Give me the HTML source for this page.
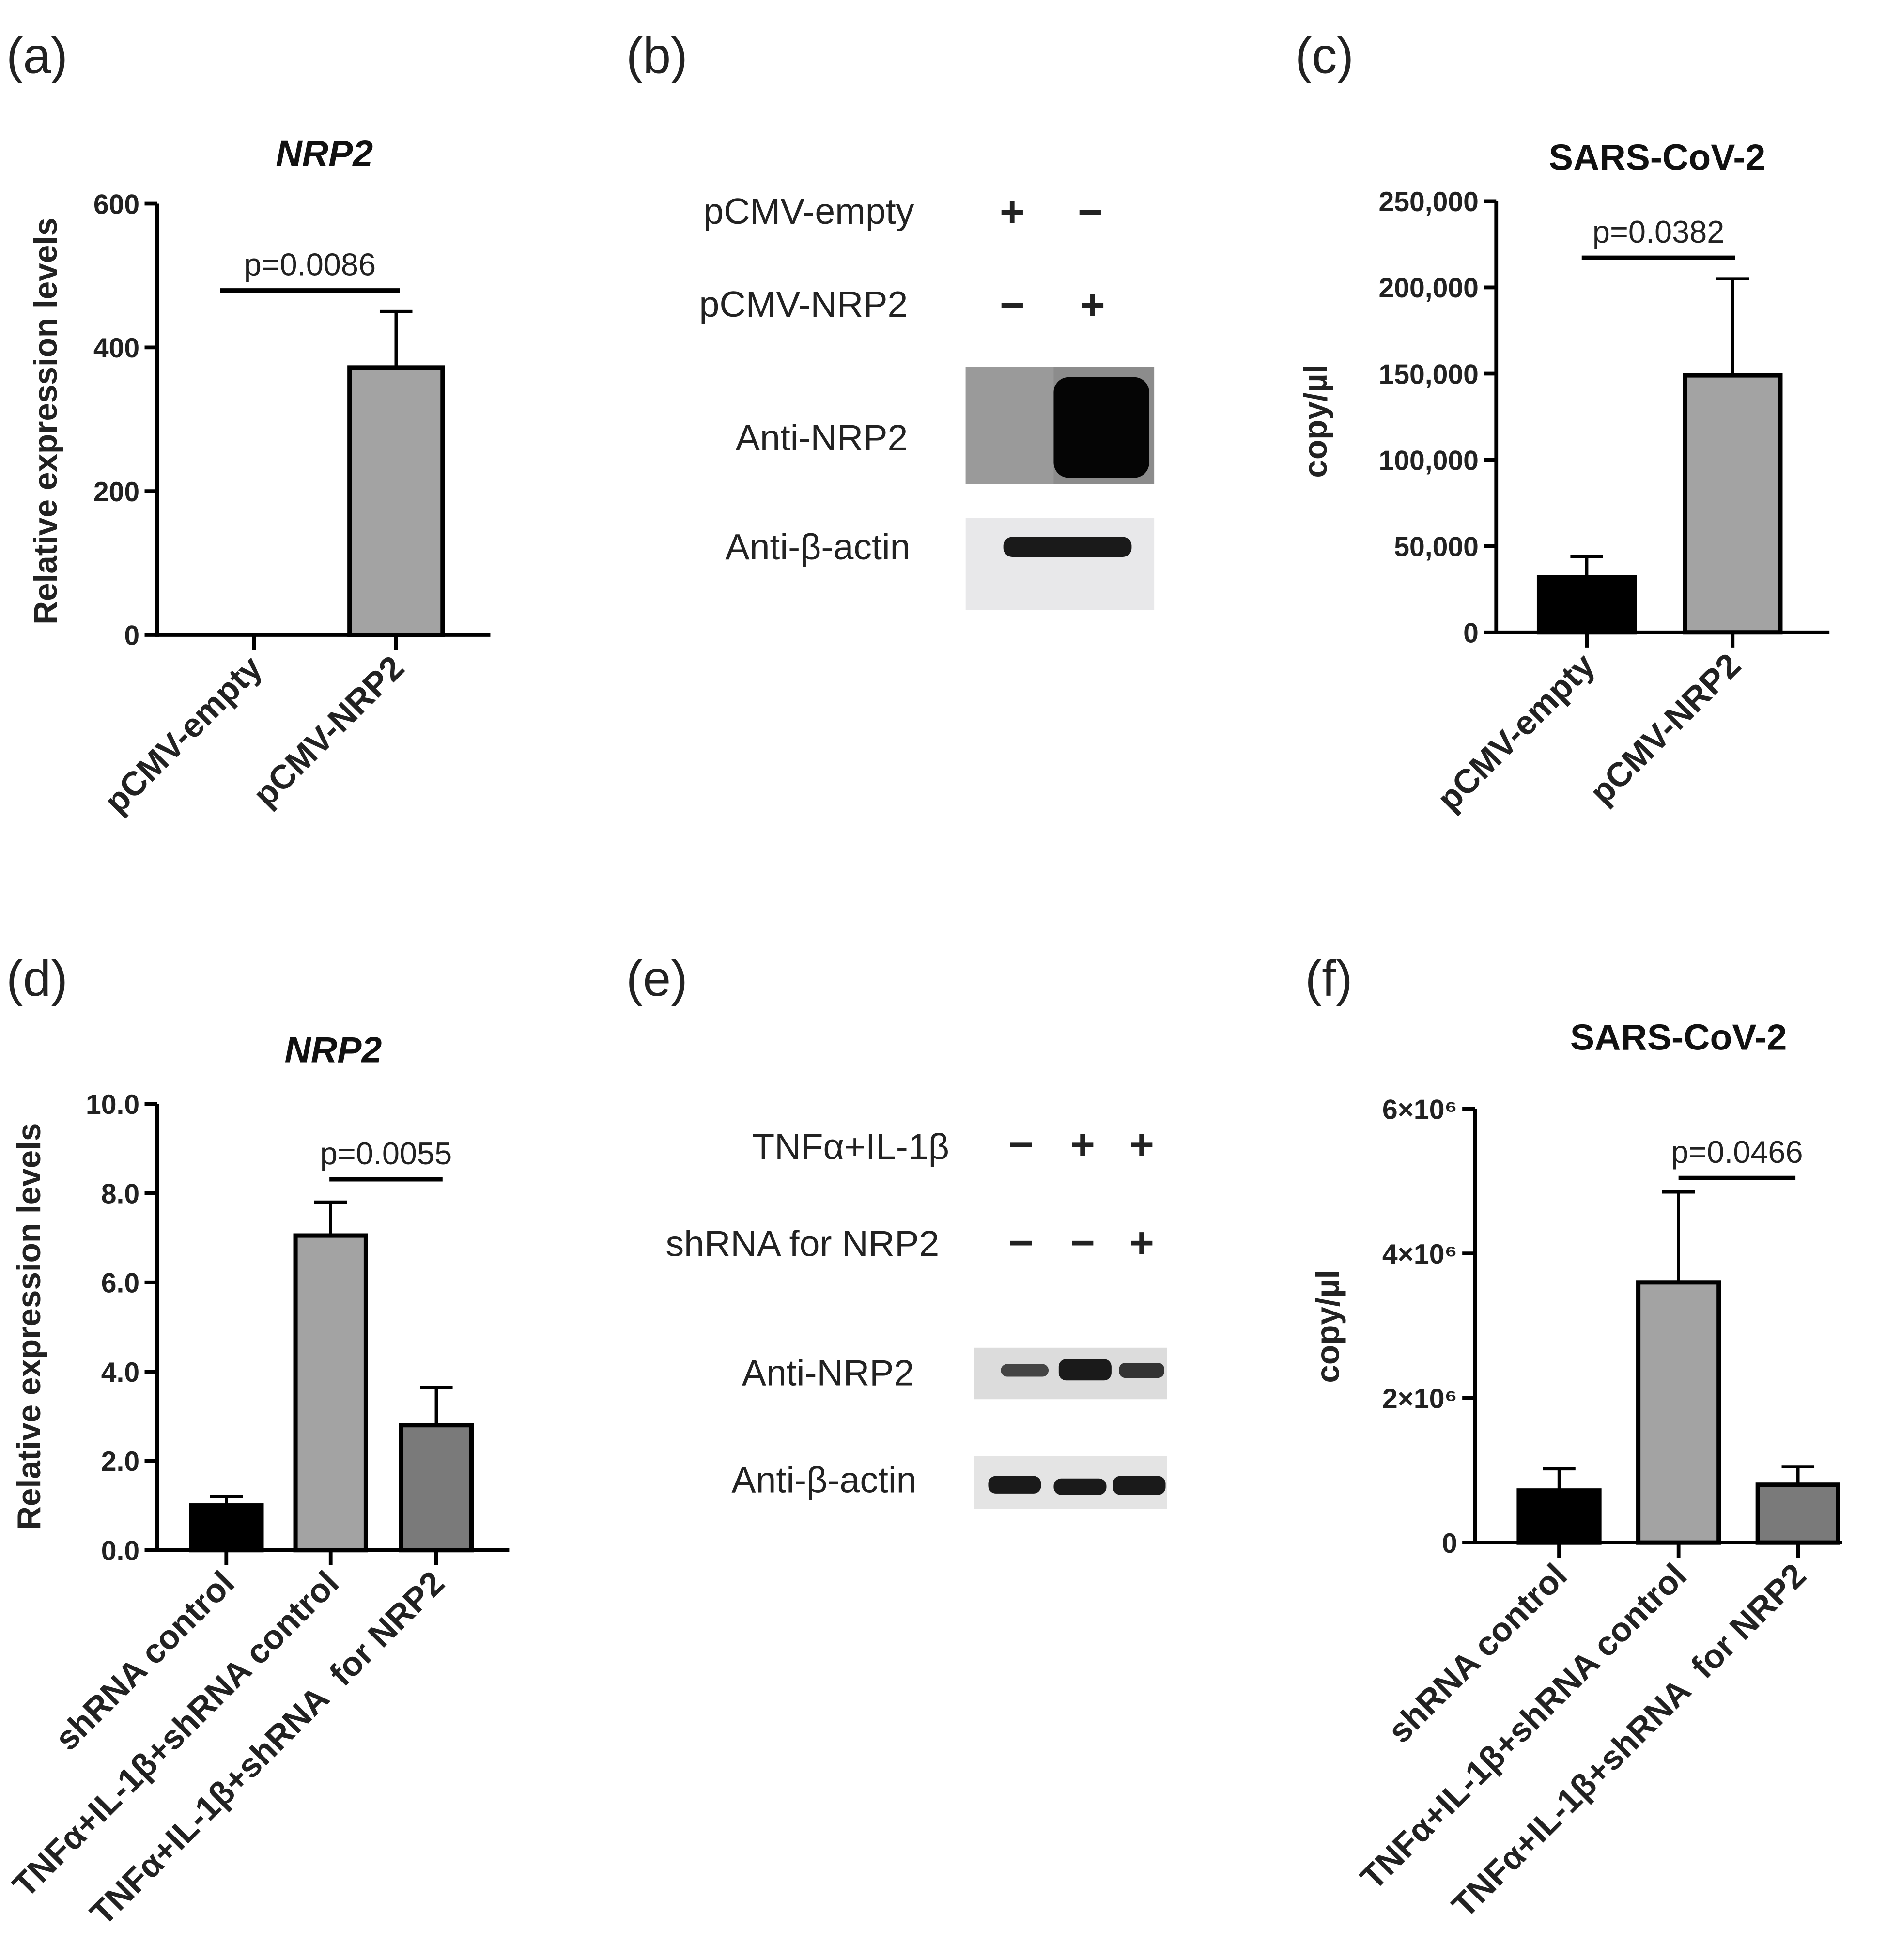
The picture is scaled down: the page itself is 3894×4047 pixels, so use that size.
<!DOCTYPE html>
<html><head><meta charset="utf-8"><style>html,body{margin:0;padding:0;background:#fff}svg{display:block}
text{font-family:"Liberation Sans",sans-serif;white-space:pre}</style></head><body>
<svg id="fig" width="3894" height="4047" viewBox="0 0 1500 1559" preserveAspectRatio="none" xmlns="http://www.w3.org/2000/svg">
<g font-size="40" fill="#222">
<text x="5" y="58">(a)</text>
<text x="498" y="58">(b)</text>
<text x="1030" y="58">(c)</text>
<text x="5" y="792">(d)</text>
<text x="498" y="792">(e)</text>
<text x="1038" y="792">(f)</text>
</g>
<g font-size="29" fill="#222" text-anchor="end">
<text x="727" y="178">pCMV-empty</text><text x="722" y="252">pCMV-NRP2</text>
<text x="722" y="358">Anti-NRP2</text><text x="724" y="445">Anti-β-actin</text>
<text x="805" y="180" text-anchor="middle" font-weight="bold" font-size="34">+</text>
<text x="867" y="180" text-anchor="middle" font-weight="bold" font-size="34">−</text>
<text x="805" y="254" text-anchor="middle" font-weight="bold" font-size="34">−</text>
<text x="869" y="254" text-anchor="middle" font-weight="bold" font-size="34">+</text>
<rect x="768" y="292" width="150" height="93" fill="#8c8c8c"/>
<rect x="768" y="292" width="70" height="93" fill="#9a9a9a"/>
<rect x="838" y="300" width="76" height="80" rx="12" fill="#050505"/>
<rect x="768" y="412" width="150" height="73" fill="#e8e8ea"/>
<rect x="798" y="427" width="102" height="16" rx="7" fill="#1a1a1a"/>
</g>
<g font-size="29" fill="#222" text-anchor="end">
<text x="755" y="922">TNFα+IL-1β</text><text x="747" y="999">shRNA for NRP2</text>
<text x="727" y="1102">Anti-NRP2</text><text x="729" y="1187">Anti-β-actin</text>
<g text-anchor="middle" font-weight="bold" font-size="34">
<text x="812" y="922">−</text><text x="861" y="922">+</text><text x="908" y="922">+</text>
<text x="812" y="1000">−</text><text x="861" y="1000">−</text><text x="908" y="1000">+</text></g>
<rect x="775" y="1072" width="153" height="41" fill="#dcdcdc"/>
<rect x="796" y="1085" width="38" height="10" rx="5" fill="#444"/>
<rect x="842" y="1081" width="42" height="17" rx="6" fill="#1a1a1a"/>
<rect x="890" y="1084" width="36" height="12" rx="5" fill="#333"/>
<rect x="775" y="1158" width="153" height="42" fill="#e4e4e4"/>
<rect x="786" y="1174" width="42" height="14" rx="6" fill="#1a1a1a"/>
<rect x="838" y="1176" width="42" height="13" rx="6" fill="#1a1a1a"/>
<rect x="885" y="1174" width="42" height="15" rx="6" fill="#1a1a1a"/>
</g>
<g id="charts"></g>
</svg>
<script>
const catsA=["pCMV-empty","pCMV-NRP2"], valsA=[0,372], errA=[0,450], ticksA=[0,200,400,600], tickLabA=["0","200","400","600"];
const catsC=["pCMV-empty","pCMV-NRP2"], valsC=[32000,149000], errC=[44000,205000], ticksC=[0,50000,100000,150000,200000,250000], tickLabC=["0","50,000","100,000","150,000","200,000","250,000"];
const catsD=["shRNA control","TNFα+IL-1β+shRNA control","TNFα+IL-1β+shRNA  for NRP2"], valsD=[1.0,7.05,2.8], errD=[1.2,7.8,3.65], ticksD=[0,2,4,6,8,10], tickLabD=["0.0","2.0","4.0","6.0","8.0","10.0"];
const catsF=["shRNA control","TNFα+IL-1β+shRNA control","TNFα+IL-1β+shRNA  for NRP2"], valsF=[720000,3600000,800000], errF=[1020000,4850000,1050000], ticksF=[0,2e6,4e6,6e6], tickLabF=["0","2×10⁶","4×10⁶","6×10⁶"];
const NS="http://www.w3.org/2000/svg", root=document.getElementById('charts');
function mk(tag,at,parent,txt){const e=document.createElementNS(NS,tag);for(const k in at)e.setAttribute(k,at[k]);if(txt!==undefined)e.textContent=txt;(parent||root).appendChild(e);return e;}
function chart(c){
 const g=mk('g',{});
 
 
 const y=v=>c.y0-(v/c.max)*(c.y0-c.y1);
 const xs=c.xs;
 let ax=mk('line',{x1:c.ax,x2:c.ax,y1:c.y1,y2:c.y0+1.5,stroke:'#000','stroke-width':3},g);
 
 let bx=mk('line',{x1:c.ax,x2:c.xend,y1:c.y0,y2:c.y0,stroke:'#000','stroke-width':3},g);
 
 c.ticks.forEach((t,i)=>{mk('line',{x1:c.ax-10,x2:c.ax,y1:y(t),y2:y(t),stroke:'#000','stroke-width':3},g);
  const tl=mk('text',{x:c.ax-14,y:y(t)+8,'text-anchor':'end','font-size':22,'font-weight':'bold',fill:'#222'},g,c.tl[i]);
  });
 c.cats.forEach((cat,i)=>{const cx=xs[i];
  mk('line',{x1:cx,x2:cx,y1:c.y0,y2:c.y0+12,stroke:'#000','stroke-width':3},g);
  if(c.vals[i]>0){
   mk('line',{x1:cx,x2:cx,y1:y(c.vals[i]),y2:y(c.err[i]),stroke:'#000','stroke-width':2.5},g);
   mk('line',{x1:cx-13,x2:cx+13,y1:y(c.err[i]),y2:y(c.err[i]),stroke:'#000','stroke-width':2.5},g);
   const b=mk('rect',{x:cx-c.bw/2,y:y(c.vals[i]),width:c.bw,height:c.y0-y(c.vals[i]),fill:c.colors[i],stroke:'#000','stroke-width':3.5},g);
   
  }
  const lx=cx+8,ly=c.y0+28;
  const t=mk('text',{x:lx,y:ly,transform:`rotate(-45 ${lx} ${ly})`,'text-anchor':'end','font-size':27,'font-weight':'bold',fill:'#222'},g,cat);
  
 });
 const s=c.sig;
 mk('line',{x1:s[0],x2:s[1],y1:s[2],y2:s[2],stroke:'#000','stroke-width':3.5},g);
 const pt=mk('text',{x:(s[0]+s[1])/2,y:s[2]-12,'text-anchor':'middle','font-size':25,fill:'#222'},g,c.p);
 
 const tt=mk('text',{x:c.title[1],y:c.title[2],'text-anchor':'middle','font-size':29,'font-weight':'bold','font-style':c.title[3],fill:'#111'},g,c.title[0]);
 
 const yl=mk('text',{x:c.yl[1],y:c.yl[2],transform:`rotate(-90 ${c.yl[1]} ${c.yl[2]})`,'text-anchor':'middle','font-size':26,'font-weight':'bold',fill:'#222'},g,c.yl[0]);
 
}
chart({name:'chart-a',cats:catsA,vals:valsA,err:errA,ticks:ticksA,tl:tickLabA,max:600,ax:125,xend:390,y0:505,y1:162,xs:[202,315],bw:74,colors:['#000','#a3a3a3'],sig:[175,318,231],p:'p=0.0086',title:['NRP2',258,132,'italic'],yl:['Relative expression levels',45,335]});
chart({name:'chart-c',cats:catsC,vals:valsC,err:errC,ticks:ticksC,tl:tickLabC,max:250000,ax:1190,xend:1455,y0:503,y1:160,xs:[1262,1378],bw:76,colors:['#000','#a3a3a3'],sig:[1258,1380,205],p:'p=0.0382',title:['SARS-CoV-2',1318,135,'normal'],yl:['copy/µl',1055,335]});
chart({name:'chart-d',cats:catsD,vals:valsD,err:errD,ticks:ticksD,tl:tickLabD,max:10,ax:125,xend:405,y0:1233,y1:878,xs:[180,263,347],bw:56,colors:['#000','#a3a3a3','#7a7a7a'],sig:[262,352,938],p:'p=0.0055',title:['NRP2',265,845,'italic'],yl:['Relative expression levels',32,1055]});
chart({name:'chart-f',cats:catsF,vals:valsF,err:errF,ticks:ticksF,tl:tickLabF,max:6e6,ax:1173,xend:1465,y0:1227,y1:882,xs:[1240,1335,1430],bw:64,colors:['#000','#a3a3a3','#7a7a7a'],sig:[1335,1428,937],p:'p=0.0466',title:['SARS-CoV-2',1335,835,'normal'],yl:['copy/µl',1065,1055]});
</script>
</body></html>
